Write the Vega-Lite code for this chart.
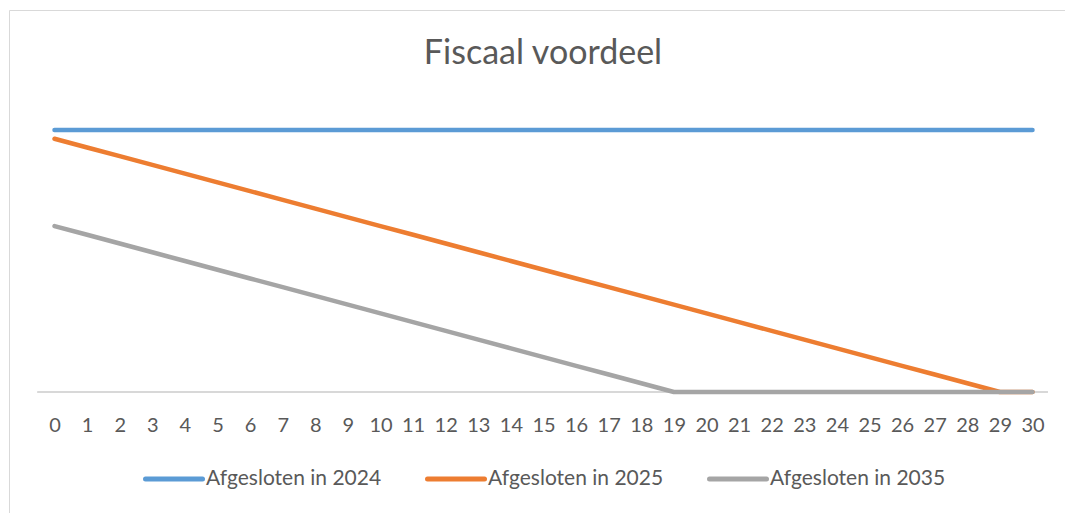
{
  "$schema": "https://vega.github.io/schema/vega-lite/v6.json",
  "autosize": "none",
  "width": 1056,
  "height": 503,
  "padding": {"left": 9, "top": 10, "right": 0, "bottom": 0},
  "background": "white",
  "config": {
    "view": {"stroke": null},
    "font": "Lato"
  },
  "title": {
    "text": "Fiscaal voordeel",
    "font": "Lato",
    "fontSize": 34,
    "fontWeight": "normal",
    "color": "#595959",
    "anchor": "middle",
    "frame": "group",
    "baseline": "alphabetic",
    "orient": "top",
    "offset": -88,
    "dx": 6
  },
  "data": {
    "values": [
      {"jaar": 0, "Afgesloten in 2024": 30, "Afgesloten in 2025": 29, "Afgesloten in 2035": 19},
      {"jaar": 1, "Afgesloten in 2024": 30, "Afgesloten in 2025": 28, "Afgesloten in 2035": 18},
      {"jaar": 2, "Afgesloten in 2024": 30, "Afgesloten in 2025": 27, "Afgesloten in 2035": 17},
      {"jaar": 3, "Afgesloten in 2024": 30, "Afgesloten in 2025": 26, "Afgesloten in 2035": 16},
      {"jaar": 4, "Afgesloten in 2024": 30, "Afgesloten in 2025": 25, "Afgesloten in 2035": 15},
      {"jaar": 5, "Afgesloten in 2024": 30, "Afgesloten in 2025": 24, "Afgesloten in 2035": 14},
      {"jaar": 6, "Afgesloten in 2024": 30, "Afgesloten in 2025": 23, "Afgesloten in 2035": 13},
      {"jaar": 7, "Afgesloten in 2024": 30, "Afgesloten in 2025": 22, "Afgesloten in 2035": 12},
      {"jaar": 8, "Afgesloten in 2024": 30, "Afgesloten in 2025": 21, "Afgesloten in 2035": 11},
      {"jaar": 9, "Afgesloten in 2024": 30, "Afgesloten in 2025": 20, "Afgesloten in 2035": 10},
      {"jaar": 10, "Afgesloten in 2024": 30, "Afgesloten in 2025": 19, "Afgesloten in 2035": 9},
      {"jaar": 11, "Afgesloten in 2024": 30, "Afgesloten in 2025": 18, "Afgesloten in 2035": 8},
      {"jaar": 12, "Afgesloten in 2024": 30, "Afgesloten in 2025": 17, "Afgesloten in 2035": 7},
      {"jaar": 13, "Afgesloten in 2024": 30, "Afgesloten in 2025": 16, "Afgesloten in 2035": 6},
      {"jaar": 14, "Afgesloten in 2024": 30, "Afgesloten in 2025": 15, "Afgesloten in 2035": 5},
      {"jaar": 15, "Afgesloten in 2024": 30, "Afgesloten in 2025": 14, "Afgesloten in 2035": 4},
      {"jaar": 16, "Afgesloten in 2024": 30, "Afgesloten in 2025": 13, "Afgesloten in 2035": 3},
      {"jaar": 17, "Afgesloten in 2024": 30, "Afgesloten in 2025": 12, "Afgesloten in 2035": 2},
      {"jaar": 18, "Afgesloten in 2024": 30, "Afgesloten in 2025": 11, "Afgesloten in 2035": 1},
      {"jaar": 19, "Afgesloten in 2024": 30, "Afgesloten in 2025": 10, "Afgesloten in 2035": 0},
      {"jaar": 20, "Afgesloten in 2024": 30, "Afgesloten in 2025": 9, "Afgesloten in 2035": 0},
      {"jaar": 21, "Afgesloten in 2024": 30, "Afgesloten in 2025": 8, "Afgesloten in 2035": 0},
      {"jaar": 22, "Afgesloten in 2024": 30, "Afgesloten in 2025": 7, "Afgesloten in 2035": 0},
      {"jaar": 23, "Afgesloten in 2024": 30, "Afgesloten in 2025": 6, "Afgesloten in 2035": 0},
      {"jaar": 24, "Afgesloten in 2024": 30, "Afgesloten in 2025": 5, "Afgesloten in 2035": 0},
      {"jaar": 25, "Afgesloten in 2024": 30, "Afgesloten in 2025": 4, "Afgesloten in 2035": 0},
      {"jaar": 26, "Afgesloten in 2024": 30, "Afgesloten in 2025": 3, "Afgesloten in 2035": 0},
      {"jaar": 27, "Afgesloten in 2024": 30, "Afgesloten in 2025": 2, "Afgesloten in 2035": 0},
      {"jaar": 28, "Afgesloten in 2024": 30, "Afgesloten in 2025": 1, "Afgesloten in 2035": 0},
      {"jaar": 29, "Afgesloten in 2024": 30, "Afgesloten in 2025": 0, "Afgesloten in 2035": 0},
      {"jaar": 30, "Afgesloten in 2024": 30, "Afgesloten in 2025": 0, "Afgesloten in 2035": 0}
    ]
  },
  "resolve": {"axis": {"x": "independent"}},
  "layer": [
    {
      "mark": {"type": "rule", "color": "#D9D9D9", "strokeWidth": 1},
      "encoding": {
        "x": {
          "datum": -0.51,
          "type": "quantitative",
          "scale": {"domain": [-1.396, 30.997], "nice": false, "zero": false},
          "axis": {"orient": "top", "title": null, "labels": false, "ticks": false, "grid": false, "domain": true, "domainColor": "#D9D9D9", "domainWidth": 1}
        },
        "x2": {"datum": 30.47},
        "y": {
          "datum": 0,
          "type": "quantitative",
          "scale": {"domain": [-13.855, 43.74], "nice": false, "zero": false},
          "axis": {"orient": "left", "title": null, "labels": false, "ticks": false, "grid": false, "domain": true, "domainColor": "#D9D9D9", "domainWidth": 1}
        }
      }
    },
    {
      "transform": [
        {"fold": ["Afgesloten in 2024", "Afgesloten in 2025", "Afgesloten in 2035"], "as": ["serie", "waarde"]}
      ],
      "mark": {"type": "line", "strokeWidth": 4.5, "strokeCap": "round", "strokeJoin": "round"},
      "encoding": {
        "x": {
          "field": "jaar",
          "type": "quantitative",
          "scale": {"domain": [-1.396, 30.997], "nice": false, "zero": false},
          "axis": {
            "orient": "bottom",
            "title": null,
            "values": [0,1,2,3,4,5,6,7,8,9,10,11,12,13,14,15,16,17,18,19,20,21,22,23,24,25,26,27,28,29,30],
            "format": "d",
            "labelOverlap": false,
            "labelFlush": false,
            "labelBound": false,
            "labelFont": "Lato",
            "labelFontSize": 20,
            "labelColor": "#595959",
            "labelBaseline": "alphabetic",
            "labelPadding": 2,
            "ticks": false,
            "tickSize": 0,
            "domain": false,
            "grid": false,
            "offset": -84
          }
        },
        "y": {
          "field": "waarde",
          "type": "quantitative",
          "scale": {"domain": [-13.855, 43.74], "nice": false, "zero": false},
          "axis": {"orient": "left", "title": null, "labels": false, "ticks": false, "grid": false, "domain": true, "domainColor": "#D9D9D9", "domainWidth": 1}
        },
        "color": {
          "field": "serie",
          "type": "nominal",
          "scale": {
            "domain": ["Afgesloten in 2024", "Afgesloten in 2025", "Afgesloten in 2035"],
            "range": ["#5B9BD5", "#ED7D31", "#A5A5A5"]
          },
          "legend": {
            "title": null,
            "orient": "none",
            "legendX": 134,
            "legendY": 438,
            "direction": "horizontal",
            "symbolType": "stroke",
            "symbolSize": 3249,
            "symbolStrokeWidth": 5,
            "labelFont": "Lato",
            "labelFontSize": 21,
            "labelColor": "#595959",
            "labelOffset": 1,
            "columnPadding": 35,
            "padding": 0,
            "labelLimit": 400,
            "encode": {"symbols": {"update": {"strokeCap": {"value": "round"}}}}
          }
        }
      }
    }
  ]
}
